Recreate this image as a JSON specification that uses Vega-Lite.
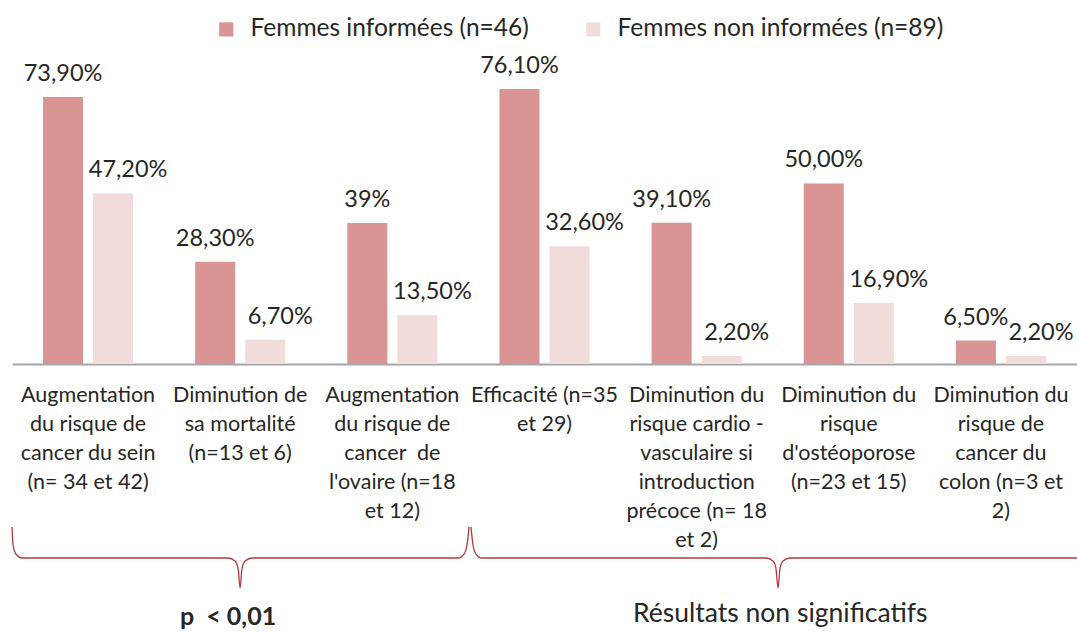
{
  "$schema": "https://vega.github.io/schema/vega-lite/v6.json",
  "width": 1065,
  "height": 289,
  "autosize": {"type": "none"},
  "padding": {"left": 12, "top": 75, "right": 0, "bottom": 268},
  "background": "white",
  "config": {
    "view": {"stroke": null},
    "font": "Lato",
    "text": {"font": "Lato", "color": "#262626"}
  },
  "datasets": {
    "bars": [
      {"cat": "Augmentation|du risque de|cancer du sein|(n= 34 et 42)", "s": "Femmes informées (n=46)", "v": 73.9, "t": "73,90%"},
      {"cat": "Augmentation|du risque de|cancer du sein|(n= 34 et 42)", "s": "Femmes non informées (n=89)", "v": 47.2, "t": "47,20%"},
      {"cat": "Diminution de|sa mortalité|(n=13 et 6)", "s": "Femmes informées (n=46)", "v": 28.3, "t": "28,30%"},
      {"cat": "Diminution de|sa mortalité|(n=13 et 6)", "s": "Femmes non informées (n=89)", "v": 6.7, "t": "6,70%"},
      {"cat": "Augmentation|du risque de|cancer\u00a0 de|l'ovaire (n=18|et 12)", "s": "Femmes informées (n=46)", "v": 39, "t": "39%"},
      {"cat": "Augmentation|du risque de|cancer\u00a0 de|l'ovaire (n=18|et 12)", "s": "Femmes non informées (n=89)", "v": 13.5, "t": "13,50%"},
      {"cat": "Efficacité (n=35|et 29)", "s": "Femmes informées (n=46)", "v": 76.1, "t": "76,10%"},
      {"cat": "Efficacité (n=35|et 29)", "s": "Femmes non informées (n=89)", "v": 32.6, "t": "32,60%"},
      {"cat": "Diminution du|risque cardio -|vasculaire si|introduction|précoce (n= 18|et 2)", "s": "Femmes informées (n=46)", "v": 39.1, "t": "39,10%"},
      {"cat": "Diminution du|risque cardio -|vasculaire si|introduction|précoce (n= 18|et 2)", "s": "Femmes non informées (n=89)", "v": 2.2, "t": "2,20%"},
      {"cat": "Diminution du|risque|d'ostéoporose|(n=23 et 15)", "s": "Femmes informées (n=46)", "v": 50.0, "t": "50,00%"},
      {"cat": "Diminution du|risque|d'ostéoporose|(n=23 et 15)", "s": "Femmes non informées (n=89)", "v": 16.9, "t": "16,90%"},
      {"cat": "Diminution du|risque de|cancer du|colon (n=3 et|2)", "s": "Femmes informées (n=46)", "v": 6.5, "t": "6,50%"},
      {"cat": "Diminution du|risque de|cancer du|colon (n=3 et|2)", "s": "Femmes non informées (n=89)", "v": 2.2, "t": "2,20%"}
    ],
    "brace": [
      {"g": "L", "i": 1, "x": 0.0, "y": -45.1},
      {"g": "L", "i": 2, "x": 0.007, "y": -50.1},
      {"g": "L", "i": 3, "x": 0.026, "y": -52.6},
      {"g": "L", "i": 4, "x": 0.066, "y": -53.7},
      {"g": "L", "i": 5, "x": 1.42, "y": -53.7},
      {"g": "L", "i": 6, "x": 1.466, "y": -54.5},
      {"g": "L", "i": 7, "x": 1.486, "y": -56.5},
      {"g": "L", "i": 8, "x": 1.499, "y": -62.0},
      {"g": "L", "i": 9, "x": 1.512, "y": -56.5},
      {"g": "L", "i": 10, "x": 1.532, "y": -54.5},
      {"g": "L", "i": 11, "x": 1.578, "y": -53.7},
      {"g": "L", "i": 12, "x": 2.932, "y": -53.7},
      {"g": "L", "i": 13, "x": 2.971, "y": -52.6},
      {"g": "L", "i": 14, "x": 2.991, "y": -50.1},
      {"g": "L", "i": 15, "x": 3.004, "y": -45.1},
      {"g": "R", "i": 1, "x": 3.017, "y": -45.1},
      {"g": "R", "i": 2, "x": 3.03, "y": -50.1},
      {"g": "R", "i": 3, "x": 3.05, "y": -52.6},
      {"g": "R", "i": 4, "x": 3.089, "y": -53.7},
      {"g": "R", "i": 5, "x": 4.956, "y": -53.7},
      {"g": "R", "i": 6, "x": 5.002, "y": -54.5},
      {"g": "R", "i": 7, "x": 5.021, "y": -56.5},
      {"g": "R", "i": 8, "x": 5.035, "y": -62.0},
      {"g": "R", "i": 9, "x": 5.048, "y": -56.5},
      {"g": "R", "i": 10, "x": 5.068, "y": -54.5},
      {"g": "R", "i": 11, "x": 5.114, "y": -53.7},
      {"g": "R", "i": 12, "x": 7.0, "y": -53.7}
    ],
    "notes": [
      {"x": 1.42, "y": -70.0, "label": "p\u00a0 < 0,01", "w": "bold"},
      {"x": 5.05, "y": -69.3, "label": "Résultats non significatifs", "w": "normal"}
    ]
  },
  "layer": [
    {
      "data": {"name": "bars"},
      "encoding": {
        "x": {
          "field": "cat", "type": "nominal", "sort": null,
          "scale": {"paddingInner": 0, "paddingOuter": 0},
          "axis": {
            "title": null, "ticks": false, "domainColor": "#A6A6A6", "domainWidth": 2,
            "labelAngle": 0, "labelExpr": "split(datum.label, '|')",
            "labelFont": "Lato", "labelFontSize": 21.5, "labelColor": "#262626",
            "labelLineHeight": 29, "labelBaseline": "top", "labelPadding": 20, "labelLimit": 0
          }
        },
        "xOffset": {
          "field": "s", "type": "nominal", "sort": null,
          "scale": {"paddingInner": 0.2, "paddingOuter": 0.62}
        },
        "y": {
          "field": "v", "type": "quantitative",
          "scale": {"domain": [0, 80], "nice": false, "zero": true},
          "axis": null
        }
      },
      "layer": [
        {
          "mark": {"type": "bar"},
          "encoding": {
            "color": {
              "field": "s", "type": "nominal", "sort": null,
              "scale": {"range": ["#D99594", "#F2DCDB"]},
              "legend": {
                "title": null, "orient": "none", "direction": "horizontal",
                "legendX": 202, "legendY": -58,
                "symbolType": "square", "symbolSize": 200, "symbolStrokeWidth": 0,
                "symbolOpacity": 1,
                "labelFont": "Lato", "labelFontSize": 24.5, "labelColor": "#262626",
                "labelLimit": 0, "columnPadding": 52, "labelOffset": 12
              }
            }
          }
        },
        {
          "transform": [{"filter": "datum.s === 'Femmes informées (n=46)'"}],
          "mark": {"type": "text", "baseline": "alphabetic", "dy": -16, "fontSize": 23.5, "font": "Lato", "color": "#262626"},
          "encoding": {"text": {"field": "t"}}
        },
        {
          "transform": [{"filter": "datum.s === 'Femmes non informées (n=89)'"}],
          "mark": {"type": "text", "baseline": "alphabetic", "dy": -16, "dx": 15, "fontSize": 23.5, "font": "Lato", "color": "#262626"},
          "encoding": {"text": {"field": "t"}}
        }
      ]
    },
    {
      "layer": [
        {
          "data": {"name": "brace"},
          "mark": {"type": "line", "interpolate": "monotone", "color": "#B03A3A", "strokeWidth": 1.3},
          "encoding": {
            "x": {"field": "x", "type": "quantitative", "scale": {"domain": [0, 7], "nice": false, "zero": false}, "axis": null},
            "y": {"field": "y", "type": "quantitative", "scale": {"domain": [0, 80], "nice": false}, "axis": null},
            "detail": {"field": "g"},
            "order": {"field": "i"}
          }
        },
        {
          "data": {"name": "notes"},
          "transform": [{"filter": "datum.w === 'bold'"}],
          "mark": {"type": "text", "baseline": "middle", "fontSize": 25, "font": "Lato", "fontWeight": "bold", "color": "#262626"},
          "encoding": {
            "x": {"field": "x", "type": "quantitative", "scale": {"domain": [0, 7], "nice": false, "zero": false}, "axis": null},
            "y": {"field": "y", "type": "quantitative", "scale": {"domain": [0, 80], "nice": false}, "axis": null},
            "text": {"field": "label"}
          }
        },
        {
          "data": {"name": "notes"},
          "transform": [{"filter": "datum.w === 'normal'"}],
          "mark": {"type": "text", "baseline": "middle", "fontSize": 26.5, "font": "Lato", "color": "#262626"},
          "encoding": {
            "x": {"field": "x", "type": "quantitative", "scale": {"domain": [0, 7], "nice": false, "zero": false}, "axis": null},
            "y": {"field": "y", "type": "quantitative", "scale": {"domain": [0, 80], "nice": false}, "axis": null},
            "text": {"field": "label"}
          }
        }
      ]
    }
  ],
  "resolve": {"scale": {"x": "independent"}}
}
